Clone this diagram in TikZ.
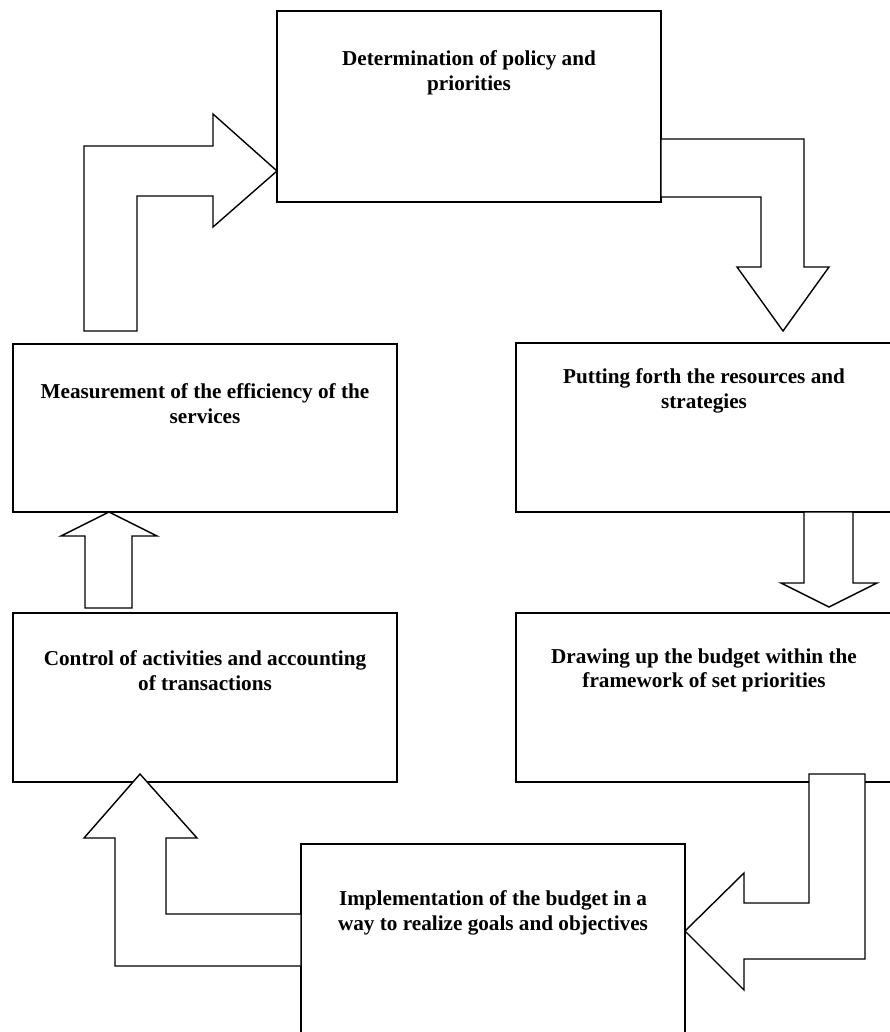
\documentclass[tikz,border=0pt]{standalone}
\usepackage{fontspec}
\setmainfont{Liberation Serif}
\begin{document}
\begin{tikzpicture}[x=1pt,y=-1pt,
  box/.style={draw, line width=1.4pt, fill=white, inner sep=0pt, outer sep=0pt},
  lbl/.style={inner sep=0pt, align=center, font=\bfseries\fontsize{21.2}{24.5}\selectfont},
  blockarrow/.style={draw, line width=1.4pt, fill=white, line join=miter}]
\useasboundingbox (0,0) rectangle (890,1032);
% boxes
\node[box, minimum width=384pt, minimum height=191pt] (top) at (469,106.5) {};
\node[box, minimum width=384pt, minimum height=168pt] (meas) at (205,428) {};
\node[box, minimum width=376pt, minimum height=169pt] (put) at (704,427.5) {};
\node[box, minimum width=384pt, minimum height=169pt] (ctrl) at (205,697.5) {};
\node[box, minimum width=376pt, minimum height=169pt] (drw) at (704,697.5) {};
\node[box, minimum width=384pt, minimum height=190pt] (impl) at (493,939) {};
% labels
\node[lbl, anchor=north] (topt) at ([yshift=-39.5pt]top.north) {Determination of policy and\\priorities};
\node[lbl, anchor=north] (meast) at ([yshift=-39.5pt]meas.north) {Measurement of the efficiency of the\\services};
\node[lbl, anchor=north] (putt) at ([yshift=-25.5pt]put.north) {Putting forth the resources and\\strategies};
\node[lbl, anchor=north] (ctrlt) at ([yshift=-37.5pt]ctrl.north) {Control of activities and accounting\\of transactions};
\node[lbl, anchor=north] (drwt) at ([yshift=-35.5pt]drw.north) {Drawing up the budget within the\\framework of set priorities};
\node[lbl, anchor=north] (implt) at ([yshift=-46.5pt]impl.north) {Implementation of the budget in a\\way to realize goals and objectives};
% block arrows
% measurement -> determination
\draw[blockarrow] (84,331) -- (84,146) -- (213,146) -- (213,114) -- (277,171) -- (213,227) -- (213,196) -- (137,196) -- (137,331) -- cycle;
% determination -> putting forth
\draw[blockarrow] (661,139) -- (804,139) -- (804,267) -- (829,267) -- (783,331) -- (737,267) -- (761,267) -- (761,197) -- (661,197) -- cycle;
% putting forth -> drawing up
\draw[blockarrow] (804,512) -- (804,583) -- (781,583) -- (829,607) -- (877,583) -- (853,583) -- (853,512) -- cycle;
% drawing up -> implementation
\draw[blockarrow] (809,774) -- (865,774) -- (865,959) -- (744,959) -- (744,990) -- (685,931) -- (744,873) -- (744,903) -- (809,903) -- cycle;
% implementation -> control
\draw[blockarrow] (301,914) -- (166,914) -- (166,838) -- (197,838) -- (140,774) -- (84,838) -- (115,838) -- (115,966) -- (301,966) -- cycle;
% control -> measurement
\draw[blockarrow] (85,608) -- (85,536) -- (61,536) -- (109,512) -- (157,536) -- (132,536) -- (132,608) -- cycle;
\end{tikzpicture}
\end{document}
